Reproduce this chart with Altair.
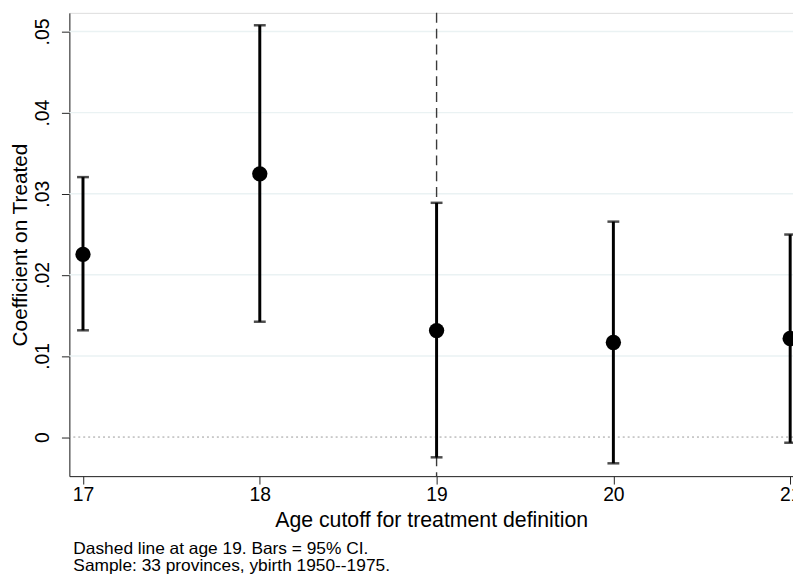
import altair as alt
import pandas as pd

# ---- data ----
cutoff = [17, 18, 19, 20, 21]
coef = [0.02253, 0.03245, 0.01313, 0.01166, 0.01215]
ci_low = [0.01316, 0.01422, -0.0025, -0.00324, -0.0007]
ci_high = [0.03205, 0.05077, 0.02888, 0.02656, 0.02497]
y_ticks = [0, 0.01, 0.02, 0.03, 0.04, 0.05]
x_ticks = [17, 18, 19, 20, 21]
grid_vals = [0.01, 0.02, 0.03, 0.04, 0.05]
ref_age = [19]
zero_line = [0]
footnote = ["Dashed line at age 19. Bars = 95% CI.",
            "Sample: 33 provinces, ybirth 1950--1975."]

FONT = "Liberation Sans"
df = pd.DataFrame({"cutoff": cutoff, "coef": coef, "lo": ci_low, "hi": ci_high})

xs = alt.Scale(domain=[16.923, 21.016], nice=False, zero=False)
ys = alt.Scale(domain=[-0.00482, 0.0523], nice=False, zero=False)

x_axis = alt.Axis(values=x_ticks, format="d", title="Age cutoff for treatment definition",
                  grid=False, tickSize=8, labelPadding=2, titlePadding=5,
                  labelFontSize=19.5, titleFontSize=21.5, labelColor="black", titleColor="black",
                  domainColor="#222", tickColor="#222", labelFont=FONT, titleFont=FONT,
                  titleFontWeight="normal", labelFlush=False)
y_axis = alt.Axis(values=y_ticks, title="Coefficient on Treated", grid=False, tickSize=8,
                  labelAngle=270, labelPadding=9, titlePadding=2,
                  labelExpr="datum.value == 0 ? '0' : replace(format(datum.value, '.2f'), /^0/, '')",
                  labelFontSize=19.5, titleFontSize=21, labelColor="black", titleColor="black",
                  domainColor="#222", tickColor="#222", labelFont=FONT, titleFont=FONT,
                  titleFontWeight="normal", labelFlush=False)

grid = alt.Chart(pd.DataFrame({"g": grid_vals})).mark_rule(
    color="#eaf2f3", strokeWidth=1.5).encode(
    y=alt.Y("g:Q", scale=ys, axis=y_axis))

zero = alt.Chart(pd.DataFrame({"z": zero_line})).mark_rule(
    color="#9a9a9a", strokeWidth=1, strokeDash=[2, 3]).encode(
    y=alt.Y("z:Q", scale=ys))

vline = alt.Chart(pd.DataFrame({"a": ref_age})).mark_rule(
    color="#3a3a3a", strokeWidth=1.4, strokeDash=[10, 6]).encode(
    x=alt.X("a:Q", scale=xs, axis=x_axis))

bars = alt.Chart(df).mark_rule(color="black", strokeWidth=3).encode(
    x=alt.X("cutoff:Q", scale=xs),
    y=alt.Y("lo:Q", scale=ys),
    y2="hi:Q")

cap_lo = alt.Chart(df).mark_tick(color="black", thickness=2.5, size=12, orient="horizontal").encode(
    x=alt.X("cutoff:Q", scale=xs), y=alt.Y("lo:Q", scale=ys))
cap_hi = alt.Chart(df).mark_tick(color="black", thickness=2.5, size=12, orient="horizontal").encode(
    x=alt.X("cutoff:Q", scale=xs), y=alt.Y("hi:Q", scale=ys))

pts = alt.Chart(df).mark_circle(color="black", size=240, opacity=1).encode(
    x=alt.X("cutoff:Q", scale=xs), y=alt.Y("coef:Q", scale=ys))

chart = alt.layer(grid, zero, vline, bars, cap_lo, cap_hi, pts).properties(
    width=731, height=468,
    autosize=alt.AutoSizeParams(type="none"),
    padding={"left": 62, "top": 2, "right": 0, "bottom": 102},
    title=alt.TitleParams(text=footnote, orient="bottom", anchor="start", frame="group",
                          font=FONT, fontSize=17.5, fontWeight="normal", color="black",
                          lineHeight=17, offset=10, dx=4),
).configure_view(stroke=None).configure(background="white")

chart.save("out.html", embed_options={"renderer": "svg", "actions": False})
